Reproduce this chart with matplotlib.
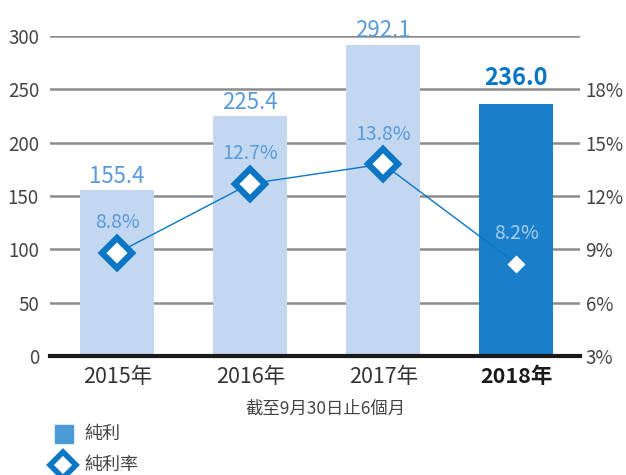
import matplotlib.pyplot as plt
from matplotlib.patches import Rectangle
from matplotlib.lines import Line2D

plt.rcParams['font.family'] = ['Noto Sans CJK TC', 'DejaVu Sans']
plt.rcParams['font.weight'] = 'light'

years = ['2015年', '2016年', '2017年', '2018年']
profit = [155.4, 225.4, 292.1, 236.0]
margin = [8.8, 12.7, 13.8, 8.2]
subtitle = '截至9月30日止6個月'

light_bar = '#c3d7f0'
dark_bar = '#1a7fca'
line_blue = '#0a76c4'
label_blue = '#5a9ad8'
grid_gray = '#8c8c8c'
text_gray = '#444444'

fig = plt.figure(figsize=(6.26, 4.75), dpi=100)
ax = fig.add_axes([0.08, 0.2505, 0.8465, 0.6735])
ax2 = ax.twinx()

x = list(range(len(years)))
colors = [light_bar] * 3 + [dark_bar]
ax.bar(x, profit, width=0.56, color=colors, zorder=2)

ax.set_ylim(0, 300)
ax.set_xlim(-0.505, 3.48)
ax.set_yticks(range(0, 301, 50))
ax.grid(axis='y', color=grid_gray, linewidth=1.8, zorder=0)
ax.set_axisbelow(True)
for s in ax.spines.values():
    s.set_visible(False)
for s in ax2.spines.values():
    s.set_visible(False)
ax.axhline(0, color='#1a1a1a', linewidth=3, zorder=5, clip_on=False)
ax.tick_params(axis='y', length=0, pad=8, labelsize=13.5, labelcolor=text_gray)
ax.tick_params(axis='x', length=0, pad=7, labelsize=15.5, labelcolor='#333333')
ax.set_xticks(x)
ax.set_xticklabels(years)
xl = ax.get_xticklabels()
xl[-1].set_fontweight('bold')
xl[-1].set_color('#1a1a1a')

# value labels
for i, v in enumerate(profit):
    if i == 3:
        ax.text(i, v + 13, f'{v:.1f}', ha='center', va='bottom', fontsize=17,
                fontweight='bold', color=line_blue)
    else:
        ax.text(i, v + 2, f'{v:.1f}', ha='center', va='bottom', fontsize=16,
                color=label_blue, clip_on=False)

# margin line on right axis
ax2.set_ylim(3, 21)
ax2.set_yticks([3, 6, 9, 12, 15, 18])
ax2.set_yticklabels([f'{t}%' for t in [3, 6, 9, 12, 15, 18]])
ax2.tick_params(axis='y', length=0, pad=4, labelsize=13.5, labelcolor=text_gray)
ax2.plot(x, margin, color=line_blue, linewidth=1, zorder=3)
ax2.plot(x[:3], margin[:3], linestyle='none', marker='D', markersize=15,
         markerfacecolor='white', markeredgecolor=line_blue, markeredgewidth=4.5, zorder=4)
ax2.plot(x[3:], margin[3:], linestyle='none', marker='D', markersize=10,
         markerfacecolor='white', markeredgecolor=dark_bar, markeredgewidth=1, zorder=4)
for i, m in enumerate(margin):
    c = '#a9cbee' if i == 3 else label_blue
    ax2.text(i, m + 1.1, f'{m:.1f}%', ha='center', va='bottom', fontsize=14, color=c)

fig.text(0.52, 0.14, subtitle, ha='center', va='center', fontsize=12.5,
         style='italic', color=text_gray)

# legend
fig.add_artist(Rectangle((0.088, 0.068), 0.029, 0.038, transform=fig.transFigure,
                         color='#4a9ad6'))
fig.text(0.135, 0.087, '純利', ha='left', va='center', fontsize=13, color=text_gray)
fig.add_artist(Line2D([0.101], [0.022], transform=fig.transFigure, marker='D',
                      markersize=13, markerfacecolor='white', markeredgecolor=line_blue,
                      markeredgewidth=4))
fig.text(0.135, 0.022, '純利率', ha='left', va='center', fontsize=13, color=text_gray)

fig.savefig('out.png', dpi=100)
